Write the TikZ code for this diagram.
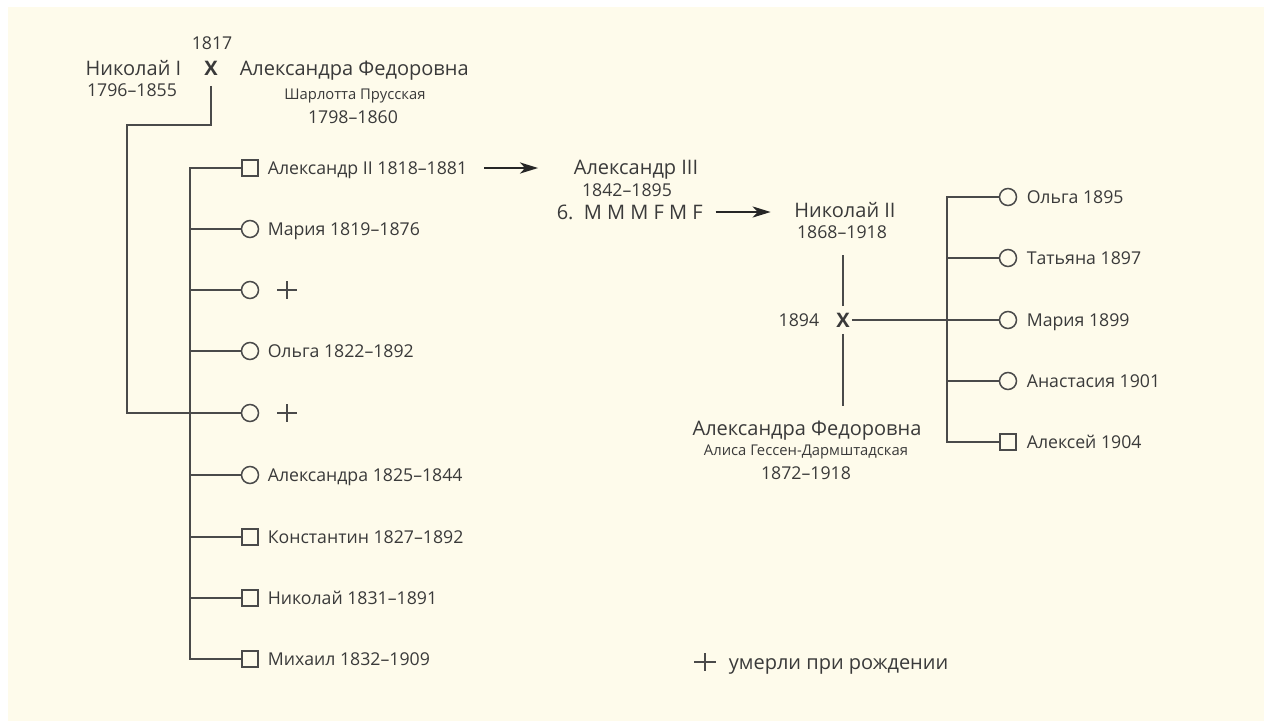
\documentclass[tikz,border=0pt]{standalone}
\usepackage{fontspec}
\setmainfont{Open Sans}
\usetikzlibrary{arrows.meta}

\definecolor{paper}{HTML}{FEFBEB}
\definecolor{ink}{HTML}{3A3A3A}
\definecolor{rule}{HTML}{4A4A4A}

\tikzset{
  big/.style={font=\fontsize{20}{20}\selectfont, text=ink, inner sep=0pt, text height=14.3pt, text depth=0pt},
  small/.style={font=\fontsize{14.8}{14.8}\selectfont, text=ink, inner sep=0pt, text height=10.6pt, text depth=0pt},
  kid/.style={font=\fontsize{17.7}{17.7}\selectfont, text=ink, inner sep=0pt, text height=12.6pt, text depth=0pt, anchor=west},
  girl/.style={circle, draw=rule, line width=1.5pt, minimum size=17pt, inner sep=0pt},
  boy/.style={rectangle, draw=rule, line width=1.5pt, minimum size=16pt, inner sep=0pt},
  dead/.style={minimum width=20pt, minimum height=18pt, inner sep=0pt,
    path picture={\draw[rule, line width=1.5pt] (path picture bounding box.north) -- (path picture bounding box.south)
      (path picture bounding box.west) -- (path picture bounding box.east);}},
  wed/.style={font=\bfseries\fontsize{20}{20}\selectfont, text=ink, text height=14.3pt, text depth=0pt, inner xsep=1.5pt, inner ysep=6pt},
  arr/.style={-{Stealth[length=18pt, width=11pt, inset=5pt]}, line width=2.4pt, draw=black!85}
}

\begin{document}
\begin{tikzpicture}[x=1pt, y=-1pt, line width=1.6pt, draw=rule]
  \fill[paper] (8,7) rectangle (1264,721);
  \useasboundingbox (0,0) rectangle (1264,721);

  % Nikolai I and his wife
  \node[kid, anchor=center] (yr1) at (212,43) {1817};
  \node[big, anchor=east] (n1) at (182,68) {Николай I};
  \node[wed, inner ysep=10pt] (m1) at (211,68) {X};
  \node[big, anchor=west] (w1) at (239,68) {Александра Федоровна};
  \node[kid, anchor=center] (n1y) at (132,90) {1796–1855};
  \node[small] (w1b) at (355,94) {Шарлотта Прусская};
  \node[kid, anchor=center] (w1y) at (353,117) {1798–1860};

  % their children
  \node[boy] (c1) at (250,168) {};
  \node[kid] (l1) at (267,168) {Александр II 1818–1881};
  \node[girl] (c2) at (250,229) {};
  \node[kid] (l2) at (267,229) {Мария 1819–1876};
  \node[girl] (c3) at (250,290) {};
  \node[dead] (d3) at (287,290) {};
  \node[girl] (c4) at (250,351) {};
  \node[kid] (l4) at (267,351) {Ольга 1822–1892};
  \node[girl] (c5) at (250,413) {};
  \node[dead] (d5) at (287,413) {};
  \node[girl] (c6) at (250,475) {};
  \node[kid] (l6) at (267,475) {Александра 1825–1844};
  \node[boy] (c7) at (250,537) {};
  \node[kid] (l7) at (267,537) {Константин 1827–1892};
  \node[boy] (c8) at (250,598) {};
  \node[kid] (l8) at (267,598) {Николай 1831–1891};
  \node[boy] (c9) at (250,659) {};
  \node[kid] (l9) at (267,659) {Михаил 1832–1909};

  \coordinate (k) at (127,125);
  \coordinate (b1) at (190,168);
  \draw (m1.south) -- (m1 |- k) -- (k) -- (k |- c5) -- (c5.west);
  \draw (c1.west) -- (b1) -- (b1 |- c9) -- (c9.west);
  \foreach \i in {2,...,8}
    \draw (c\i.west) -- (b1 |- c\i);

  % Aleksandr III
  \node[big] (a3) at (636,167) {Александр III};
  \node[kid, anchor=center] (a3y) at (627,190) {1842–1895};
  \node[big, anchor=west] (seq) at (556,212) {6.\ \ M M M F M F};
  \draw[arr, shorten <=16pt, shorten >=35pt] (l1.east) -- (l1.east -| a3.west);

  % Nikolai II and his wife
  \node[big] (n2) at (845,210) {Николай II};
  \node[kid, anchor=center] (n2y) at (842,232) {1868–1918};
  \node[wed] (m2) at (843,320) {X};
  \node[kid, anchor=east] (yr2) at (820,320) {1894};
  \node[big] (w2) at (807,428) {Александра Федоровна};
  \node[small] (w2b) at (806,450) {Алиса Гессен-Дармштадская};
  \node[kid, anchor=center] (w2y) at (806,473) {1872–1918};
  \draw[arr, shorten <=12pt, shorten >=23pt] (seq.east) -- (seq.east -| n2.west);

  % their children
  \node[girl] (g1) at (1008,197) {};
  \node[kid] (r1) at (1026,197) {Ольга 1895};
  \node[girl] (g2) at (1008,258) {};
  \node[kid] (r2) at (1026,258) {Татьяна 1897};
  \node[girl] (g3) at (1008,320) {};
  \node[kid] (r3) at (1026,320) {Мария 1899};
  \node[girl] (g4) at (1008,381) {};
  \node[kid] (r4) at (1026,381) {Анастасия 1901};
  \node[boy] (g5) at (1008,442) {};
  \node[kid] (r5) at (1026,442) {Алексей 1904};

  \coordinate (b2) at (947,197);
  \draw[shorten >=16pt] (m2.north) -- (m2 |- n2y.south);
  \draw[shorten >=14pt] (m2.south) -- (m2 |- w2.north);
  \draw (m2.east) -- (g3.west);
  \draw (g1.west) -- (b2) -- (b2 |- g5) -- (g5.west);
  \foreach \i in {2,...,4}
    \draw (g\i.west) -- (b2 |- g\i);

  % key
  \node[dead, minimum width=22pt] (key) at (705,662) {};
  \node[big, anchor=west] (keyl) at (728,662) {умерли при рождении};
\end{tikzpicture}
\end{document}
